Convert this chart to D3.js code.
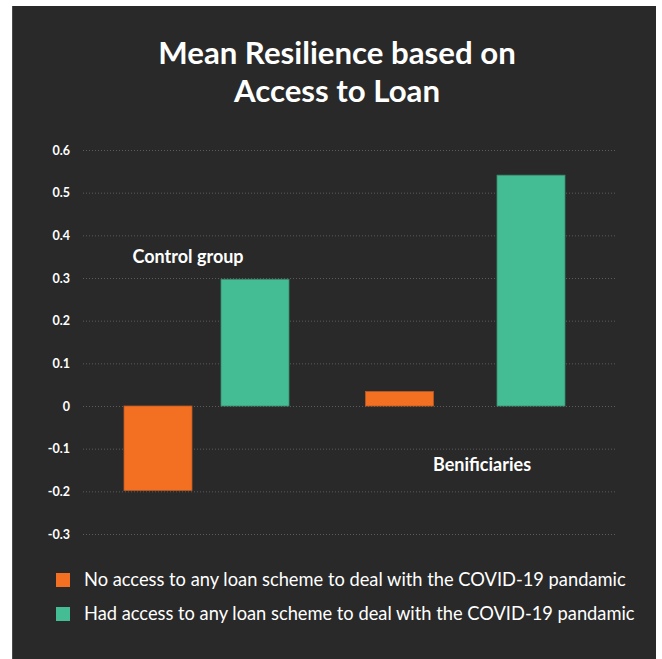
<!DOCTYPE html>
<html>
<head>
<meta charset="utf-8">
<script src="https://cdn.jsdelivr.net/npm/d3@7/dist/d3.min.js"></script>
<style>
  html, body { margin: 0; padding: 0; background: #ffffff; }
  svg { display: block; }
  text { font-family: Lato, "Open Sans", sans-serif; }
</style>
</head>
<body>
<svg id="chart" width="662" height="659"></svg>
<script>
// Mean resilience by group and loan access
const groups = ["Control group", "Benificiaries"];
const seriesNames = [
  "No access to any loan scheme to deal with the COVID-19 pandamic",
  "Had access to any loan scheme to deal with the COVID-19 pandamic"
];
const noAccess = [-0.198, 0.034];
const hadAccess = [0.297, 0.541];
const tickValues = [-0.3, -0.2, -0.1, 0, 0.1, 0.2, 0.3, 0.4, 0.5, 0.6];
const tickLabels = ["-0.3", "-0.2", "-0.1", "0", "0.1", "0.2", "0.3", "0.4", "0.5", "0.6"];
const colors = ["#f36f22", "#44bd95"];
const strokeColors = ["#b85a25", "#3b8a6c"];

const svg = d3.select("#chart");

// Dark card
svg.append("rect")
  .attr("x", 12).attr("y", 6).attr("width", 644).attr("height", 660)
  .attr("fill", "#292929");
svg.append("line")
  .attr("x1", 12.5).attr("x2", 12.5).attr("y1", 6).attr("y2", 659)
  .attr("stroke", "#4a4a4a").attr("stroke-width", 1);

// Title
const title = svg.append("text")
  .attr("text-anchor", "middle")
  .attr("fill", "#ffffff")
  .attr("font-size", 31.2)
  .attr("font-weight", 700);
title.append("tspan").attr("x", 337).attr("y", 63.5).text("Mean Resilience based on");
title.append("tspan").attr("x", 337).attr("y", 101.5).text("Access to Loan");

// Scales
const y = d3.scaleLinear().domain([-0.3, 0.6]).range([534, 150]);

const bars = [];
groups.forEach((g, i) => {
  bars.push({ key: g + "|0", group: g, s: 0, value: noAccess[i] });
  bars.push({ key: g + "|1", group: g, s: 1, value: hadAccess[i] });
});
const x = d3.scaleOrdinal()
  .domain(bars.map(d => d.key))
  .range([158, 255, 399.5, 531]);
const barWidth = 68;

// Grid lines and tick labels
const axis = d3.axisLeft(y)
  .tickValues(tickValues)
  .tickFormat((d, i) => tickLabels[i])
  .tickSize(-534)
  .tickPadding(13);

const gAxis = svg.append("g")
  .attr("transform", "translate(83,0)")
  .call(axis);
gAxis.select(".domain").remove();
gAxis.selectAll(".tick line")
  .attr("stroke", "#5c5c5c")
  .attr("stroke-width", 1)
  .attr("stroke-dasharray", "1,2");
gAxis.selectAll(".tick text")
  .attr("fill", "#ffffff")
  .attr("font-size", 12.5)
  .attr("font-weight", 700)
  .attr("font-family", "Lato, sans-serif");

// Bars
svg.append("g").selectAll("rect")
  .data(bars)
  .join("rect")
  .attr("x", d => x(d.key) - barWidth / 2)
  .attr("width", barWidth)
  .attr("y", d => y(Math.max(0, d.value)))
  .attr("height", d => Math.abs(y(d.value) - y(0)))
  .attr("fill", d => colors[d.s])
  .attr("stroke", d => strokeColors[d.s])
  .attr("stroke-width", 0.8);

// Group labels
svg.append("text")
  .attr("x", 132.5).attr("y", 262.5)
  .attr("fill", "#ffffff").attr("font-size", 18).attr("font-weight", 700)
  .text(groups[0]);
svg.append("text")
  .attr("x", 433).attr("y", 471)
  .attr("fill", "#ffffff").attr("font-size", 18).attr("font-weight", 700)
  .text(groups[1]);

// Legend
const legend = svg.append("g");
const legendItems = legend.selectAll("g")
  .data(seriesNames)
  .join("g")
  .attr("transform", (d, i) => `translate(56,${573 + i * 34})`);
legendItems.append("rect")
  .attr("width", 14).attr("height", 14)
  .attr("fill", (d, i) => colors[i]);
legendItems.append("text")
  .attr("x", 28).attr("y", 13)
  .attr("fill", "#ffffff")
  .attr("font-size", 18.3)
  .text(d => d);
</script>
</body>
</html>
